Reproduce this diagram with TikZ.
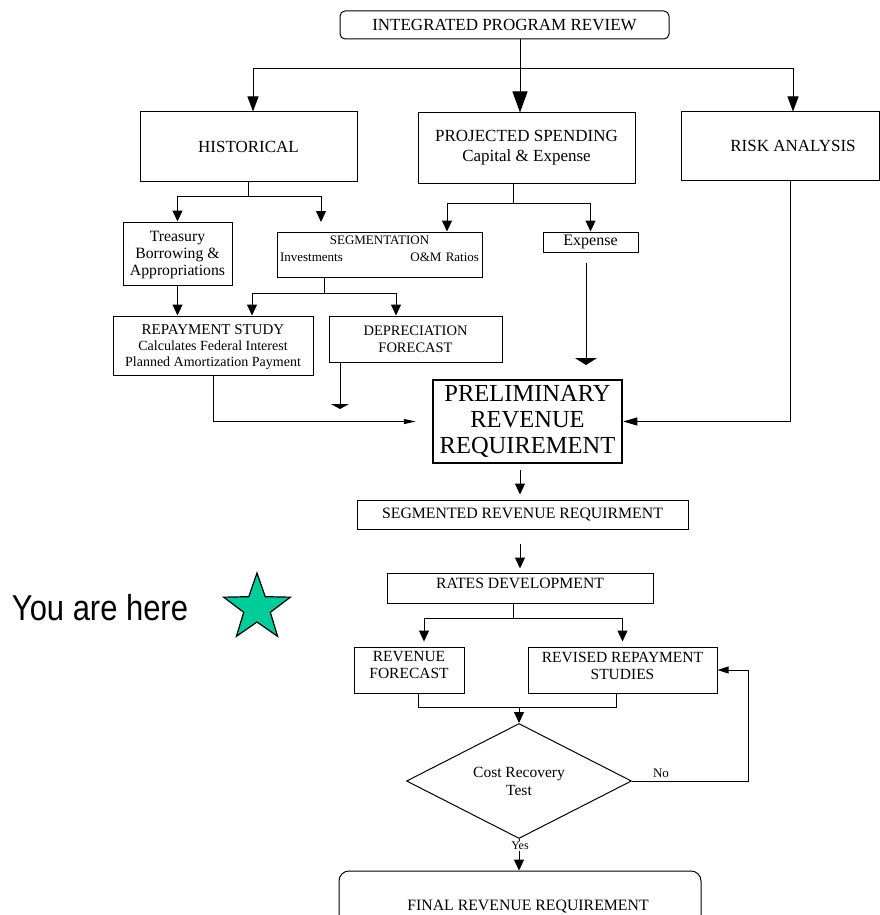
\documentclass[tikz,border=0pt]{standalone}
\usepackage{fontspec}
\setmainfont{Liberation Serif}
\newfontfamily\yhfont[FakeStretch=0.86]{Liberation Sans}
\usetikzlibrary{arrows.meta,shapes.geometric}
\definecolor{starcol}{RGB}{0,204,153}
\newcommand\fsz[2]{\fontsize{#1}{#2}\selectfont}
\tikzset{
  conn/.style={line width=1pt, draw=black},
  bx/.style={draw=black, line width=1pt, inner sep=0pt, align=center},
  tipB/.style={-{Triangle[length=11pt,width=10pt]}},
  tipT/.style={-{Triangle[length=15pt,width=11pt]}},
}
\begin{document}
\begin{tikzpicture}[x=1pt,y=-1pt]
\useasboundingbox (0,0) rectangle (880,915);
\clip (0,0) rectangle (880,915);
\fill[white] (0,0) rectangle (880,915);

% ---------- nodes ----------
\node[bx, rounded corners=5pt, minimum width=329pt, minimum height=28pt, font=\fsz{17}{20}] (top) at (504.5,25) {INTEGRATED PROGRAM REVIEW};

\node[bx, minimum width=217pt, minimum height=69pt, font=\fsz{17}{20}] (hist) at (248.5,146.5) {HISTORICAL};
\node[bx, minimum width=217pt, minimum height=70pt, font=\fsz{17}{20}] (proj) at (526.5,148) {PROJECTED SPENDING\\Capital \& Expense};
\node[bx, minimum width=198pt, minimum height=68pt, font=\fsz{17}{20}] (risk) at (780,146) {\hspace*{26pt}RISK ANALYSIS};

\node[bx, minimum width=109pt, minimum height=63pt, text depth=-2pt, font=\fsz{15.7}{17}] (treas) at (177.5,253.5) {Treasury\\Borrowing \&\\Appropriations};
\node[bx, minimum width=205pt, minimum height=45pt, text width=199pt, text depth=29pt, font=\fsz{13}{17}] (seg) at (379.5,254.5) {SEGMENTATION\\Investments\hfill O\&M Ratios};
\node[bx, minimum width=95pt, minimum height=20pt, font=\fsz{16}{18}] (exp) at (590.5,242) {Expense};

\node[bx, minimum width=200pt, minimum height=59pt, text depth=-5pt, font=\fsz{14}{16}] (repay) at (213,345.5) {{\fsz{15}{16}REPAYMENT STUDY}\\Calculates Federal Interest\\Planned Amortization Payment};
\node[bx, minimum width=173pt, minimum height=46pt, font=\fsz{14.5}{17}] (dep) at (415.5,339) {DEPRECIATION\\FORECAST};

\node[bx, line width=2.5pt, minimum width=189pt, minimum height=83pt, font=\fsz{24.5}{26}] (prelim) at (527.5,421.5) {PRELIMINARY\\REVENUE\\REQUIREMENT};

\node[bx, minimum width=331pt, minimum height=29pt, font=\fsz{15.8}{18}] (segrev) at (522.5,514.5) {SEGMENTED REVENUE REQUIRMENT};
\node[bx, minimum width=266pt, minimum height=30pt, text depth=10pt, font=\fsz{15.7}{18}] (rates) at (520,588) {RATES DEVELOPMENT};

\node[bx, minimum width=110pt, minimum height=46pt, text depth=10pt, font=\fsz{15.5}{16.5}] (revf) at (409,670) {REVENUE\\FORECAST};
\node[bx, minimum width=189pt, minimum height=46pt, text depth=8pt, font=\fsz{15.5}{17.5}] (revs) at (622.5,670) {REVISED REPAYMENT\\STUDIES};

\node[draw=black, line width=1pt, diamond, aspect=1.96, inner sep=0pt, minimum width=225pt, minimum height=115pt, align=center, font=\fsz{15.5}{18}] (test) at (519,781) {Cost Recovery\\Test};

\node[bx, rounded corners=10pt, minimum width=362pt, minimum height=72pt, font=\fsz{15.8}{18}] (final) at (520,907) {\hspace*{16pt}FINAL REVENUE REQUIREMENT};

\node[star, star points=5, star point ratio=2.5, minimum size=70pt, inner sep=0pt, fill=starcol, draw=black, line width=1.2pt] (star) at (257,608) {};
\node[anchor=base, inner sep=0pt, font=\yhfont\fsz{36}{40}] (you) at (100,620) {You are here};

% ---------- helper coordinates ----------
\coordinate (xT) at (520,0);
\coordinate (xH) at (253,0);
\coordinate (xR) at (793,0);
\coordinate (yA) at (0,69);
\coordinate (yB) at (0,196);
\coordinate (xS) at (321,222);
\coordinate (xP) at (513,0);
\coordinate (yC) at (0,203);
\coordinate (xSi) at (447,0);
\coordinate (xG) at (324,0);
\coordinate (yD) at (0,293);
\coordinate (xRp) at (252,0);
\coordinate (xDp) at (396,0);
\coordinate (depEnd) at (340,409);
\coordinate (expEnd) at (586,365);
\coordinate (xRk) at (790,0);
\coordinate (yE) at (0,618);
\coordinate (xRf) at (424,0);
\coordinate (yF) at (0,707);
\coordinate (xMa) at (418,0);
\coordinate (xMb) at (616,0);
\coordinate (xNo) at (748,0);

% ---------- connectors ----------
\draw[conn, -{Triangle[length=21pt,width=15pt]}] (top.south -| xT) -- (proj.north -| xT);
\draw[conn, tipT] (xT |- yA) -| (hist.north -| xH);
\draw[conn, tipT] (xT |- yA) -| (risk.north -| xR);

\draw[conn] (hist.south) -- (hist.south |- yB);
\draw[conn, tipB] (hist.south |- yB) -| (treas.north);
\draw[conn, tipB] (hist.south |- yB) -| (xS);

\draw[conn] (proj.south -| xP) -- (xP |- yC);
\draw[conn, tipB] (xP |- yC) -| (seg.north -| xSi);
\draw[conn, tipB] (xP |- yC) -| (exp.north);

\draw[conn] (seg.south -| xG) -- (xG |- yD);
\draw[conn, tipB] (xG |- yD) -| (repay.north -| xRp);
\draw[conn, tipB] (xG |- yD) -| (dep.north -| xDp);
\draw[conn, tipB] (treas.south) -- (treas.south |- repay.north);

\draw[conn, -{Triangle[length=12pt,width=5pt]}] (repay.south) |- ([xshift=-16pt]prelim.west);
\draw[conn, -{Triangle[length=5pt,width=18pt]}] (dep.south -| depEnd) -- (depEnd);
\draw[conn, -{Triangle[length=7pt,width=22pt]}, shorten <=10pt] (exp.south -| expEnd) -- (expEnd);
\draw[conn, -{Triangle[length=14pt,width=8pt]}] (risk.south -| xRk) |- (prelim.east);

\draw[conn, tipB, shorten <=6pt, shorten >=5pt] (prelim.south -| xT) -- (segrev.north -| xT);
\draw[conn, tipB, shorten <=14pt, shorten >=4pt] (segrev.south -| xT) -- (rates.north -| xT);

\draw[conn] (rates.south -| xP) -- (xP |- yE);
\draw[conn, tipB, shorten >=5pt] (xP |- yE) -| (revf.north -| xRf);
\draw[conn, tipB, shorten >=5pt] (xP |- yE) -| (revs.north);

\draw[conn] (revf.south -| xMa) |- (xMb |- yF) -- (revs.south -| xMb);
\draw[conn, tipB] (test.north |- yF) -- (test.north);

\draw[conn, -{Triangle[length=11pt,width=7pt]}] (test.east) -- (xNo |- test.east) |- (revs.east);
\node[inner sep=0pt, font=\fsz{13}{15}] (no) at (661,773) {No};

\draw[conn, tipB] (test.south) -- (final.north -| test.south);
\node[inner sep=1pt, fill=white, font=\fsz{12}{14}] (yes) at (520,846) {Yes};
\end{tikzpicture}
\end{document}
